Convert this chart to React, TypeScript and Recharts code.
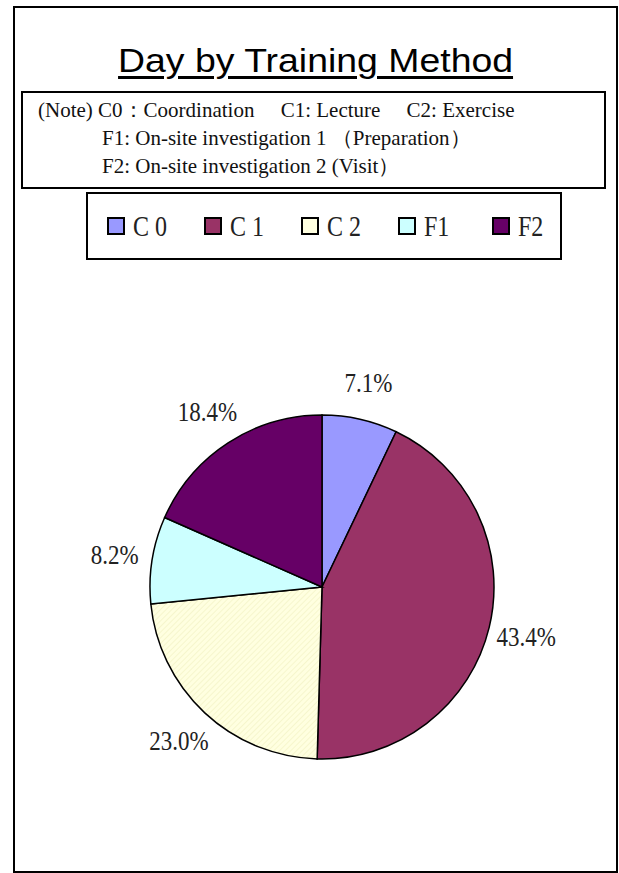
import { PieChart, Pie, Cell, Legend } from "recharts";

const categories = ["C 0", "C 1", "C 2", "F1", "F2"];
const shares = [7.1, 43.4, 23.0, 8.2, 18.4];
const sliceColors = ["#9999FF", "#993366", "url(#hatchC2)", "#CCFFFF", "#660066"];
const swatchColors = ["#9999FF", "#993366", "#FFFFE0", "#CCFFFF", "#660066"];
const noteLines = [
  "(Note) C0：Coordination\u3000 C1: Lecture\u3000 C2: Exercise",
  "F1: On-site investigation 1 （Preparation）",
  "F2: On-site investigation 2 (Visit）",
];

const data = categories.map((name, i) => ({ name, value: shares[i] }));

const RAD = Math.PI / 180;
const serif = '"Liberation Serif", "Times New Roman", serif';

function renderLabel(props: any) {
  const { cx, cy, midAngle, outerRadius, value } = props;
  const r = outerRadius + 38;
  const x = cx + r * Math.cos(-midAngle * RAD);
  const y = cy + r * Math.sin(-midAngle * RAD);
  return (
    <text
      transform={`translate(${x},${y}) scale(1,1.2)`}
      textAnchor="middle"
      dominantBaseline="central"
      fontFamily={serif}
      fontSize={23}
      fill="#222"
    >
      {`${Number(value).toFixed(1)}%`}
    </text>
  );
}

function LegendBox() {
  return (
    <div
      style={{
        width: 476,
        height: 68,
        border: "2px solid #000",
        boxSizing: "border-box",
        display: "flex",
        alignItems: "center",
        paddingLeft: 19,
        overflow: "visible",
      }}
    >
      {categories.map((c, i) => (
        <div key={c} style={{ display: "flex", alignItems: "center", width: i === 3 ? 94 : 97, flexShrink: 0 }}>
          <span
            style={{
              display: "inline-block",
              width: 14,
              height: 14,
              border: "2px solid #000",
              background: swatchColors[i],
              marginRight: 8,
            }}
          />
          <span
            style={{
              display: "inline-block",
              fontFamily: serif,
              fontSize: 24,
              lineHeight: "24px",
              transform: "scaleY(1.2)",
              color: "#222",
              whiteSpace: "pre",
            }}
          >
            {c}
          </span>
        </div>
      ))}
    </div>
  );
}

export default function App() {
  return (
    <div style={{ position: "absolute", left: 0, top: 0, width: 619, height: 873 }}>
      <div
        style={{
          position: "absolute",
          left: 13,
          top: 6,
          width: 605,
          height: 867,
          border: "2px solid #000",
          boxSizing: "border-box",
        }}
      />
      <div
        style={{
          position: "absolute",
          left: 13,
          width: 605,
          top: 40,
          textAlign: "center",
        }}
      >
        <span
          style={{
            display: "inline-block",
            fontFamily: '"Liberation Sans", Arial, sans-serif',
            fontSize: 34,
            lineHeight: "40px",
            transform: "scaleX(1.1)",
            textDecoration: "underline",
            textDecorationThickness: 3,
            textUnderlineOffset: 4,
            color: "#000",
          }}
        >
          Day by Training Method
        </span>
      </div>
      <div
        style={{
          position: "absolute",
          left: 21,
          top: 91,
          width: 585,
          height: 98,
          border: "2px solid #000",
          boxSizing: "border-box",
          fontFamily: serif,
          fontSize: 21,
          lineHeight: "28px",
          paddingTop: 3,
          color: "#111",
        }}
      >
        {noteLines.map((l, i) => (
          <div key={i} style={{ paddingLeft: i === 0 ? 15 : 79, whiteSpace: "pre" }}>
            {l}
          </div>
        ))}
      </div>
      <div style={{ position: "absolute", left: 0, top: 0 }}>
        <PieChart width={619} height={873} margin={{ top: 0, right: 0, bottom: 0, left: 0 }}>
          <defs>
            <pattern id="hatchC2" width="4" height="4" patternUnits="userSpaceOnUse" patternTransform="rotate(45)">
              <rect width="4" height="4" fill="#FFFFE0" />
              <line x1="0" y1="0" x2="0" y2="4" stroke="#EEEEBB" strokeWidth="1" />
            </pattern>
          </defs>
          <Pie
            data={data}
            dataKey="value"
            nameKey="name"
            cx={322}
            cy={587}
            outerRadius={172}
            startAngle={90}
            endAngle={-270}
            stroke="#000"
            strokeWidth={1.5}
            label={renderLabel}
            labelLine={false}
            isAnimationActive={false}
          >
            {data.map((d, i) => (
              <Cell key={d.name} fill={sliceColors[i]} />
            ))}
          </Pie>
          <Legend
            content={() => <LegendBox />}
            wrapperStyle={{ position: "absolute", left: 86, top: 192, width: 476 }}
          />
        </PieChart>
      </div>
    </div>
  );
}
